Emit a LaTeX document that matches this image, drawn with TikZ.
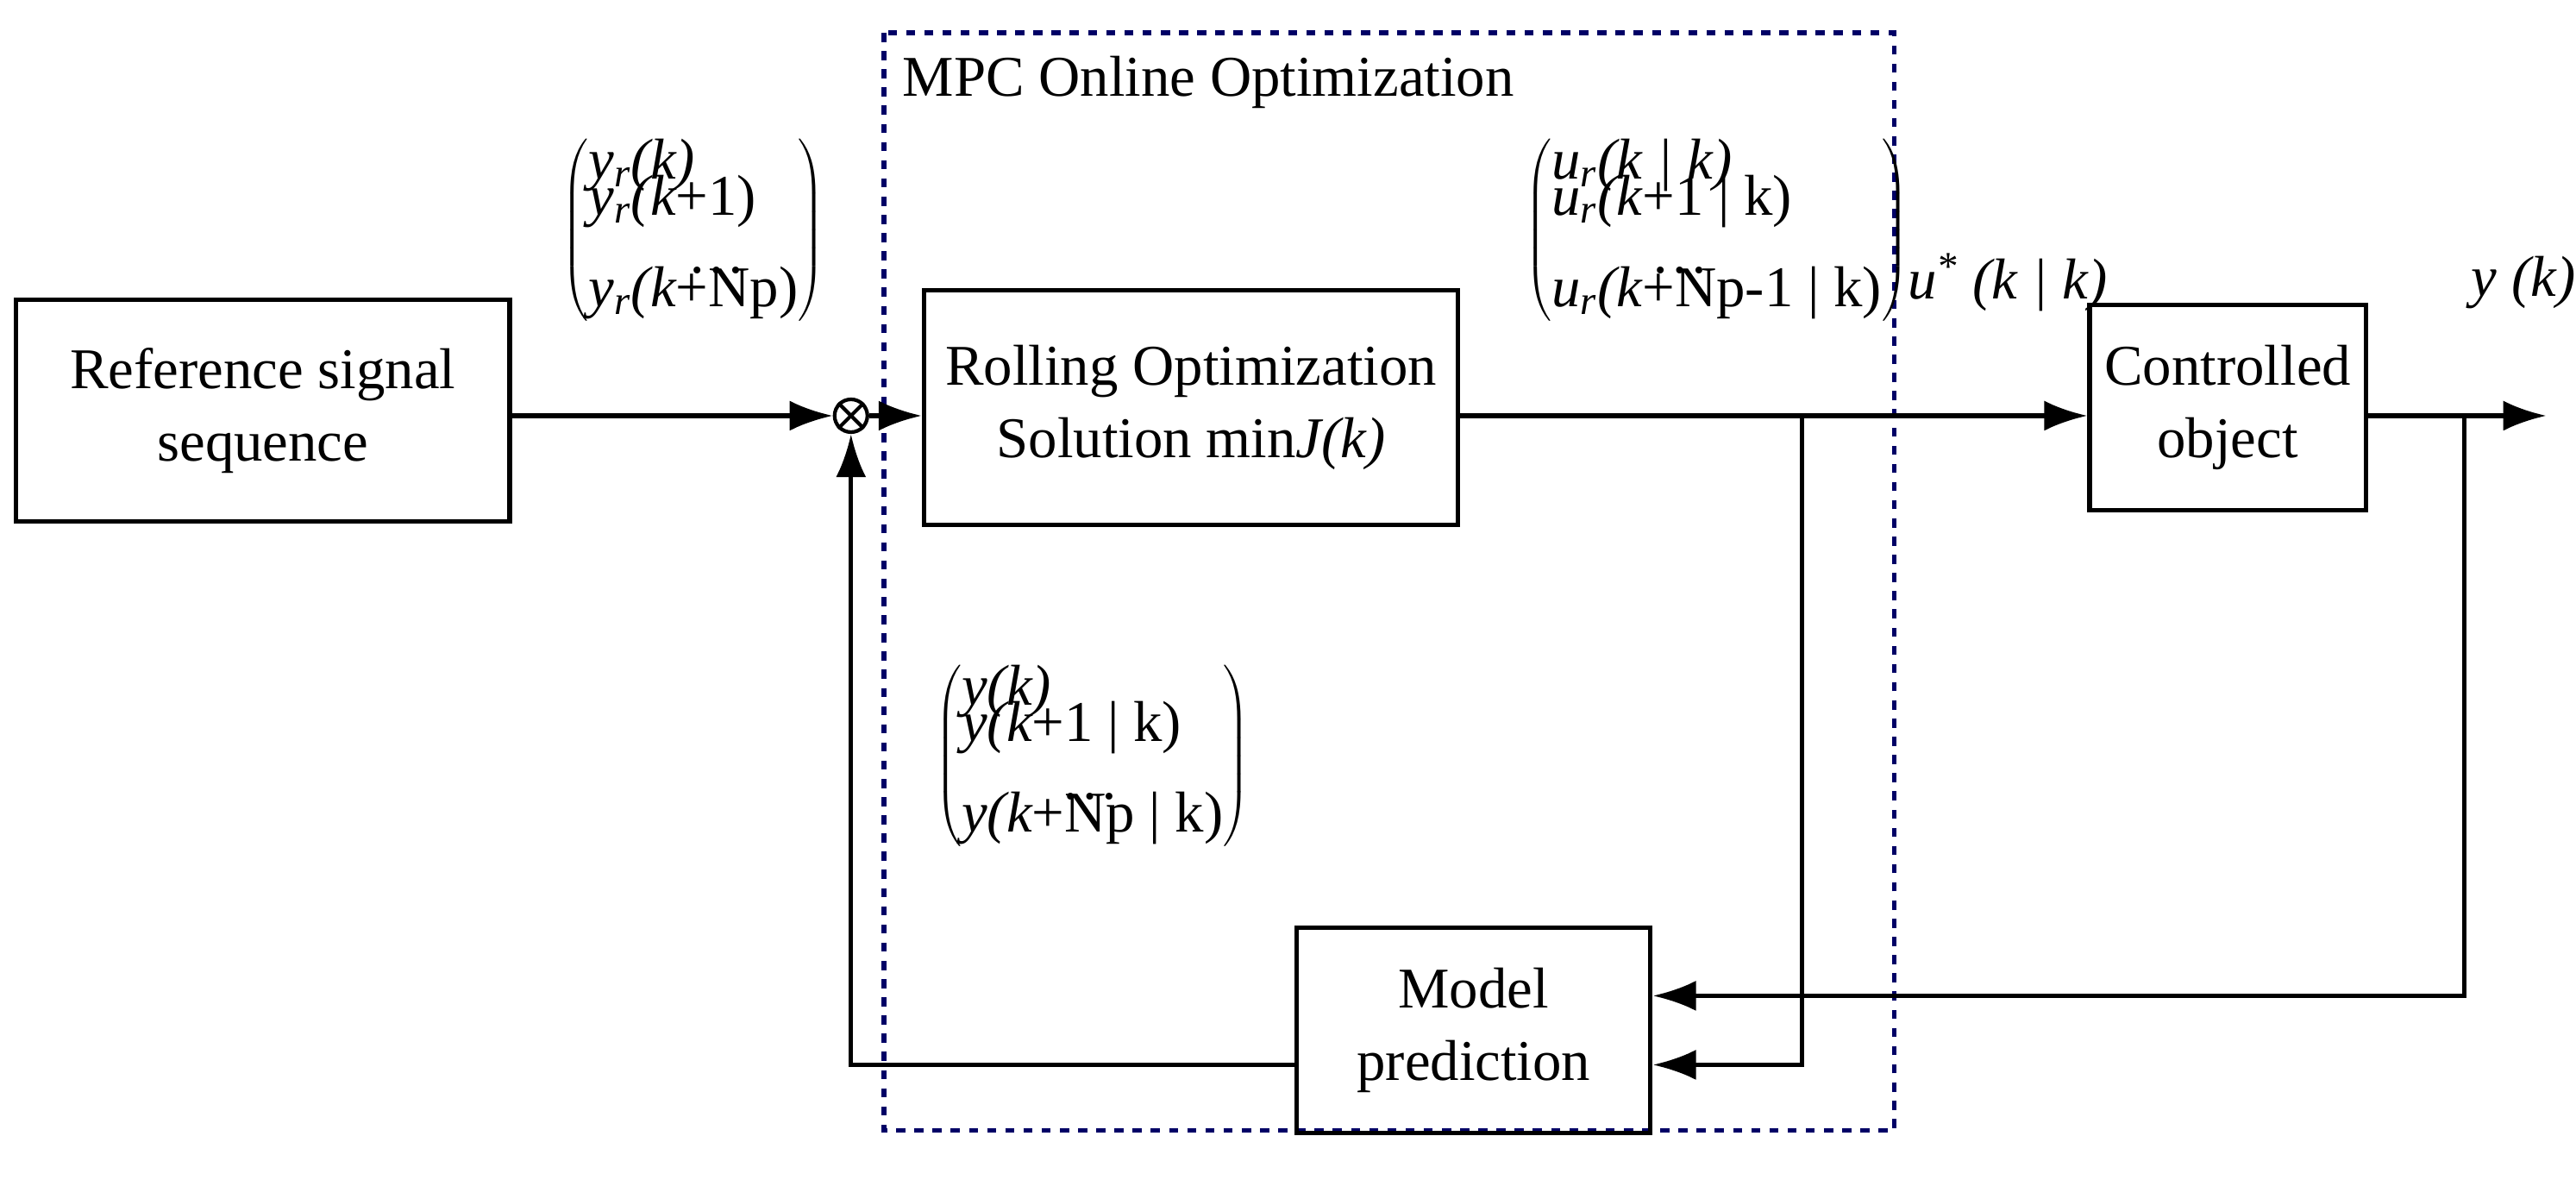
\documentclass[tikz,border=0pt]{standalone}
\usepackage{fontspec}
\setmainfont{Liberation Serif}
\usetikzlibrary{positioning,arrows.meta}
\tikzset{
  blk/.style={draw, line width=1.5pt, align=center, font=\fontsize{19}{24}\selectfont},
  line/.style={line width=1.5pt, -{Latex[length=5mm,width=3.5mm]}},
  vec/.style={font=\fontsize{19}{21}\selectfont\itshape}
}
\newcommand{\vecrows}[4]{$\left(\begin{tabular}{@{}l@{}}#1\\[-9pt] #2\\[-2pt] \hspace*{1.8em}\dots\\[-10pt] #3\end{tabular}\right)$}
\begin{document}
\begin{tikzpicture}[x=0.01905cm,y=-0.01905cm]
    \useasboundingbox (0,0) rectangle (1568,718);
    % MPC frame
    \draw [dashed, line width=1.5pt, draw=blue!40!black] (538,20) rectangle (1153,688);
    \node [anchor=west, font=\fontsize{19}{24}\selectfont] (mpc) at (543,50) {MPC Online Optimization};

    % blocks
    \node [blk, minimum width=5.72cm, minimum height=2.57cm] (ref) at (160,250) {Reference signal\\sequence};
    \node [blk, minimum width=6.19cm, minimum height=2.72cm] (roll) at (725,248) {Rolling Optimization\\Solution min\textit{J(k)}};
    \node [blk, minimum width=3.2cm, minimum height=2.38cm] (plant) at (1356,248) {Controlled\\object};
    \node [blk, minimum width=4.1cm, minimum height=2.38cm] (model) at (897,627) {Model\\prediction};
    \node [draw, line width=1.2pt, circle, inner sep=0pt, minimum size=0.38cm] (sum) at (518,253) {};
    \draw [line width=1.2pt] (sum.north west) -- (sum.south east) (sum.north east) -- (sum.south west);

    % coordinates
    \coordinate (out) at (1550,253);
    \coordinate (b1) at (1097,253);
    \coordinate (b2) at (1500,253);

    % signals
    \draw [line] (ref.east |- sum) -- (sum);
    \draw [line] (sum) -- (roll.west |- sum);
    \draw [line] (roll.east |- sum) -- (plant.west |- sum);
    \draw [line] (plant.east |- sum) -- (out);
    \draw [line] (b1) |- ([yshift=-0.4cm]model.east);
    \draw [line] (b2) |- ([yshift=0.4cm]model.east);
    \draw [line] ([yshift=-0.4cm]model.west) -| (sum);

    % vectors
    \node [vec] (yr) at (422,140) {\vecrows{y\textsubscript{r}(k)}{y\textsubscript{r}(k\upshape{+1})}{y\textsubscript{r}(k\upshape{+}Np)}{}};
    \node [vec] (ur) at (1045,140) {\vecrows{u\textsubscript{r}(k | k)}{u\textsubscript{r}(k\upshape{+1} | k)}{u\textsubscript{r}(k\upshape{+}Np\upshape{-1} | k)}{}};
    \node [vec] (yp) at (665,460) {\vecrows{y(k)}{y(k\upshape{+}1 | k)}{y(k\upshape{+}Np | k)}{}};
    \node [vec] (ustar) at (1222,172) {u\textsuperscript{*} (k | k)};
    \node [vec] (yk) at (1536,172) {y (k)};
\end{tikzpicture}
\end{document}
